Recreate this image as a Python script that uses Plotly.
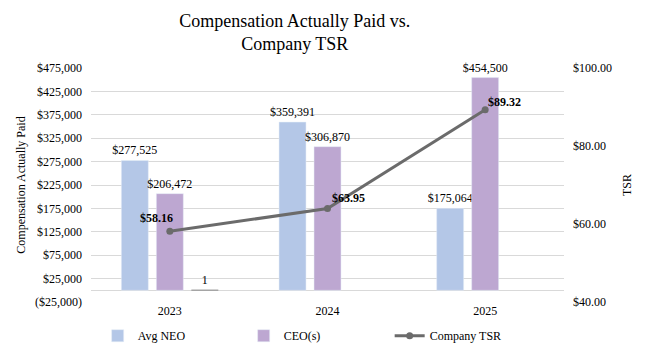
import plotly.graph_objects as go

years = ["2023", "2024", "2025"]
avg_neo = [277525, 359391, 175064]
ceo = [206472, 306870, 454500]
other = [1, None, None]
other_labels = ["1", "", ""]
tsr = [58.16, 63.95, 89.32]

y_ticks = list(range(-25000, 475001, 50000))
y_ticktext = [("($%s)" % f"{-v:,}") if v < 0 else f"${v:,}" for v in y_ticks]
y2_ticks = [40, 60, 80, 100]

FONT = "Liberation Serif, Times New Roman, serif"

fig = go.Figure()
fig.add_trace(go.Bar(
    x=years, y=avg_neo, name="Avg NEO", marker_color="#B4C7E7",
    text=[f"${v:,}" for v in avg_neo], textposition="outside", constraintext="none",
    textfont=dict(size=12, color="#000000", family=FONT), cliponaxis=False,
))
fig.add_trace(go.Bar(
    x=years, y=ceo, name="CEO(s)", marker_color="#BDA7D1",
    text=[f"${v:,}" for v in ceo], textposition="outside", constraintext="none",
    textfont=dict(size=12, color="#000000", family=FONT), cliponaxis=False,
))
fig.add_trace(go.Bar(
    x=years, y=other, name="Other", marker_color="#A5A5A5",
    marker_line=dict(color="#A5A5A5", width=1.5),
    text=other_labels, textposition="outside", constraintext="none", showlegend=False,
    textfont=dict(size=12, color="#000000", family=FONT), cliponaxis=False,
))
fig.add_trace(go.Scatter(
    x=years, y=tsr, name="Company TSR", yaxis="y2", mode="lines+markers",
    line=dict(color="#6B6B6B", width=3), marker=dict(size=7, color="#6B6B6B"),
    cliponaxis=False,
))

shifts = [(-13, 13), (21, 11), (19, 8)]
for i, (v, (dx, dy)) in enumerate(zip(tsr, shifts)):
    fig.add_annotation(x=i, y=v, xref="x", yref="y2", text=f"<b>${v:.2f}</b>", showarrow=False,
                       xshift=dx, yshift=dy, font=dict(size=12, color="#000000", family=FONT))

fig.update_layout(
    width=645, height=352,
    margin=dict(l=91, r=81, t=68, b=50, autoexpand=False),
    paper_bgcolor="white", plot_bgcolor="white",
    font=dict(family=FONT, color="#000000", size=12),
    title=dict(text="Compensation Actually Paid vs.<br>Company TSR", x=0.457, xanchor="center",
               y=0.924, yanchor="middle", font=dict(size=18, family=FONT, color="#000000")),
    barmode="group", bargap=0.334, bargroupgap=0.23,
    showlegend=True,
    legend=dict(orientation="h", x=0.0141, y=-0.082, xanchor="left", yanchor="top",
                entrywidth=101, entrywidthmode="pixels",
                font=dict(size=12, family=FONT, color="#000000"), bgcolor="rgba(0,0,0,0)"),
    xaxis=dict(type="category", range=[-0.5, 2.5], showline=False,
               ticks="", showgrid=False, tickfont=dict(size=12)),
    yaxis=dict(range=[-25000, 475000], tickvals=y_ticks, ticktext=y_ticktext,
               showgrid=True, gridcolor="#D9D9D9", gridwidth=1,
               zeroline=True, zerolinecolor="#D9D9D9", zerolinewidth=1,
               ticklabelstandoff=8, tickfont=dict(size=12),
               title=dict(text="Compensation Actually Paid", font=dict(size=12), standoff=6)),
    yaxis2=dict(range=[40, 100], tickvals=y2_ticks, ticktext=[f"${v:.2f}" for v in y2_ticks],
                overlaying="y", side="right", showgrid=False, zeroline=False,
                ticklabelstandoff=8, tickfont=dict(size=12),
                title=dict(text="TSR", font=dict(size=12), standoff=11)),
)

fig.write_html("out.html")
